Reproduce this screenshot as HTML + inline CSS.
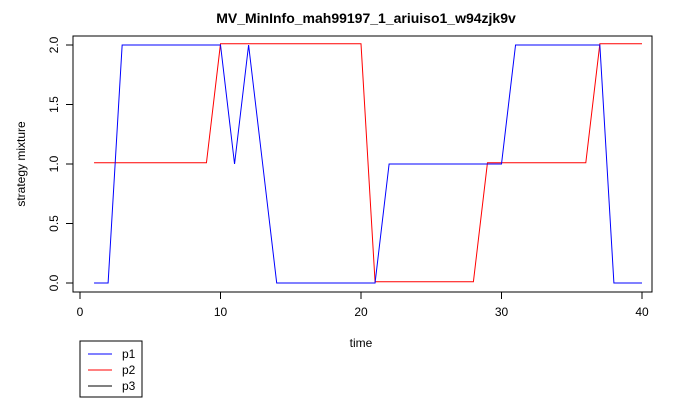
<!DOCTYPE html>
<html><head><meta charset="utf-8"><style>
body{margin:0;background:#fff;font-family:"Liberation Sans",Arial,sans-serif}
svg text{font-family:"Liberation Sans",Arial,sans-serif}
</style></head><body>
<svg id="c" width="700" height="400">
<text x="366" y="23" text-anchor="middle" font-size="14" font-weight="bold">MV_MinInfo_mah99197_1_ariuiso1_w94zjk9v</text>
<rect x="73" y="36" width="579" height="256" fill="none" stroke="#000"/>
<text x="361" y="347" text-anchor="middle" font-size="12">time</text>
<text transform="translate(25,164) rotate(-90)" text-anchor="middle" font-size="12">strategy mixture</text>
<g id="ax"></g><g id="lines"></g>
<g>
<rect x="80" y="341" width="62" height="56" fill="#fff" stroke="#000"/>
<line x1="88" y1="354" x2="112" y2="354" stroke="#0000ff"/><text x="122" y="358" font-size="12">p1</text>
<line x1="88" y1="370" x2="112" y2="370" stroke="#ff0000"/><text x="122" y="374" font-size="12">p2</text>
<line x1="88" y1="386" x2="112" y2="386" stroke="#000"/><text x="122" y="390" font-size="12">p3</text>
</g>
</svg>
<script>
const xs=[1,2,3,4,5,6,7,8,9,10,11,12,13,14,15,16,17,18,19,20,21,22,23,24,25,26,27,28,29,30,31,32,33,34,35,36,37,38,39,40];
const p1=[0,0,2,2,2,2,2,2,2,2,1,2,1,0,0,0,0,0,0,0,0,1,1,1,1,1,1,1,1,1,2,2,2,2,2,2,2,0,0,0];
const p2=[1.01,1.01,1.01,1.01,1.01,1.01,1.01,1.01,1.01,2.01,2.01,2.01,2.01,2.01,2.01,2.01,2.01,2.01,2.01,2.01,0.01,0.01,0.01,0.01,0.01,0.01,0.01,0.01,1.01,1.01,1.01,1.01,1.01,1.01,1.01,1.01,2.01,2.01,2.01,2.01];
const xTicks=[0,10,20,30,40];
const yTicks=[0,0.5,1,1.5,2];
const yLabels=["0.0","0.5","1.0","1.5","2.0"];
const X=v=>80+v*14.05, Y=v=>283-v*119;
const NS="http://www.w3.org/2000/svg";
const ax=document.getElementById('ax'), lg=document.getElementById('lines');
function mk(t,a,p){const e=document.createElementNS(NS,t);for(const k in a)e.setAttribute(k,a[k]);p.appendChild(e);return e;}
xTicks.forEach(v=>{
 const l=mk('line',{x1:X(v),x2:X(v),y1:292,y2:299,stroke:'#000'},ax);
 
 
 const t=mk('text',{x:X(v),y:316,'text-anchor':'middle','font-size':12},ax);t.textContent=v;
 
 
});
yTicks.forEach((v,i)=>{
 const l=mk('line',{x1:66,x2:73,y1:Y(v),y2:Y(v),stroke:'#000'},ax);
 
 
 const t=mk('text',{transform:`translate(58,${Y(v)}) rotate(-90)`,'text-anchor':'middle','font-size':12},ax);t.textContent=yLabels[i];
 
 
});
function line(d,c,n){const p=mk('polyline',{points:d.map((v,i)=>X(xs[i])+','+Y(v)).join(' '),fill:'none',stroke:c,'stroke-width':1},lg);
 
 }
line(p2,'#ff0000','p2-line');
line(p1,'#0000ff','p1-line');
</script>
</body></html>
